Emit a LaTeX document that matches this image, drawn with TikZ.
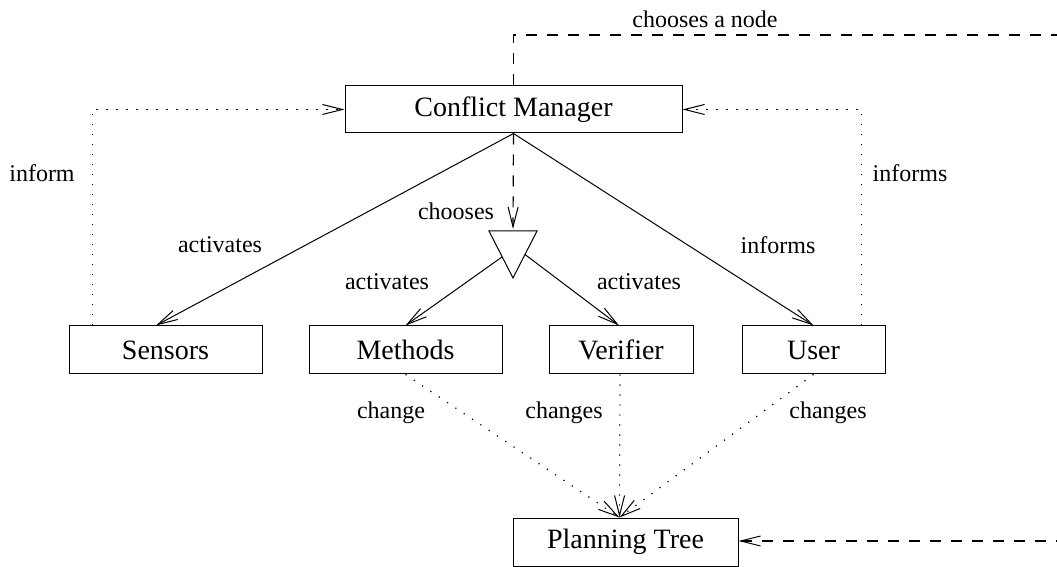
\documentclass[tikz,border=0pt]{standalone}
\usepackage{fontspec}
\setmainfont{Liberation Serif}
\usetikzlibrary{arrows.meta,calc}

\tikzset{
  box/.style={draw, line width=0.5pt, inner sep=0pt,
    minimum height=24pt, font=\fontsize{14pt}{16pt}\selectfont},
  lbl/.style={inner sep=0pt, font=\fontsize{12pt}{14pt}\selectfont},
  tip/.style={-{Straight Barb[length=10pt,width=5pt,line width=0.5pt]}},
  solidarr/.style={tip, line width=0.5pt},
  dotarr/.style={tip, line width=0.6pt, dash pattern=on 0.6pt off 4.4pt},
  dasharr/.style={tip, line width=0.6pt, dash pattern=on 5.5pt off 5pt},
}

\begin{document}
\begin{tikzpicture}[x=0.5pt, y=-0.5pt]
  \useasboundingbox (0,0) rectangle (1057,567);
  \clip (0,0) rectangle (1057,567);

  % boxes
  \node[box, minimum width=168.5pt, minimum height=23.5pt] (cm) at (513.5,109.5) {Conflict Manager};
  \node[box, minimum width=96.5pt] (sensors) at (165.5,350) {Sensors};
  \node[box, minimum width=96.5pt] (methods) at (405.5,350) {Methods};
  \node[box, minimum width=72pt]   (verifier) at (621,350) {Verifier};
  \node[box, minimum width=71.5pt] (user) at (813.5,350) {User};
  \node[box, minimum width=112.5pt] (pt) at (625.5,542) {Planning Tree};

  % selection triangle
  \coordinate (tl) at (489,231);
  \coordinate (tr) at (537,231);
  \coordinate (tb) at (513,278);
  \draw[line width=0.5pt] (tl) -- (tr) -- (tb) -- cycle;
  \coordinate (choice) at (513,229);

  % solid activation arrows
  \draw[solidarr] (cm.south) -- ([xshift=-4.75pt]sensors.north);
  \draw[solidarr] (cm.south) -- (user.north);
  \draw[solidarr] ($(tl)!0.55!(tb)$) -- (methods.north);
  \draw[solidarr] ($(tr)!0.5!(tb)$) -- ([xshift=-1pt]verifier.north);
  \draw[dasharr] (cm.south) -- (choice);

  % dotted feedback to the manager
  \draw[dotarr] ([xshift=12pt]sensors.north west) |- (cm.west);
  \draw[dotarr] ([xshift=-12pt]user.north east) |- (cm.east);

  % dotted changes to the planning tree
  \coordinate (ptin) at ([xshift=-3pt]pt.north);
  \draw[dotarr] (methods.south) -- (ptin);
  \draw[dotarr] ([xshift=-0.5pt]verifier.south) -- (ptin);
  \draw[dotarr] (user.south) -- (ptin);

  % dashed loop from the manager to the planning tree
  \coordinate (loopa) at (513.5,35);
  \coordinate (loopb) at (1100,35);
  \coordinate (loopc) at (1100,541);
  \draw[dasharr] (cm.north) -- (loopa) -- (loopb) -- (loopc) -- (loopc -| pt.east);

  % labels
  \node[lbl] (l1) at (705,19) {chooses a node};
  \node[lbl] (l2) at (42,173) {inform};
  \node[lbl] (l3) at (910,173) {informs};
  \node[lbl] (l4) at (456,211) {chooses};
  \node[lbl] (l5) at (220,245) {activates};
  \node[lbl] (l6) at (778,245) {informs};
  \node[lbl] (l7) at (387,282) {activates};
  \node[lbl] (l8) at (639,282) {activates};
  \node[lbl] (l9) at (391,413) {change};
  \node[lbl] (l10) at (564,413) {changes};
  \node[lbl] (l11) at (828,413) {changes};
\end{tikzpicture}
\end{document}
